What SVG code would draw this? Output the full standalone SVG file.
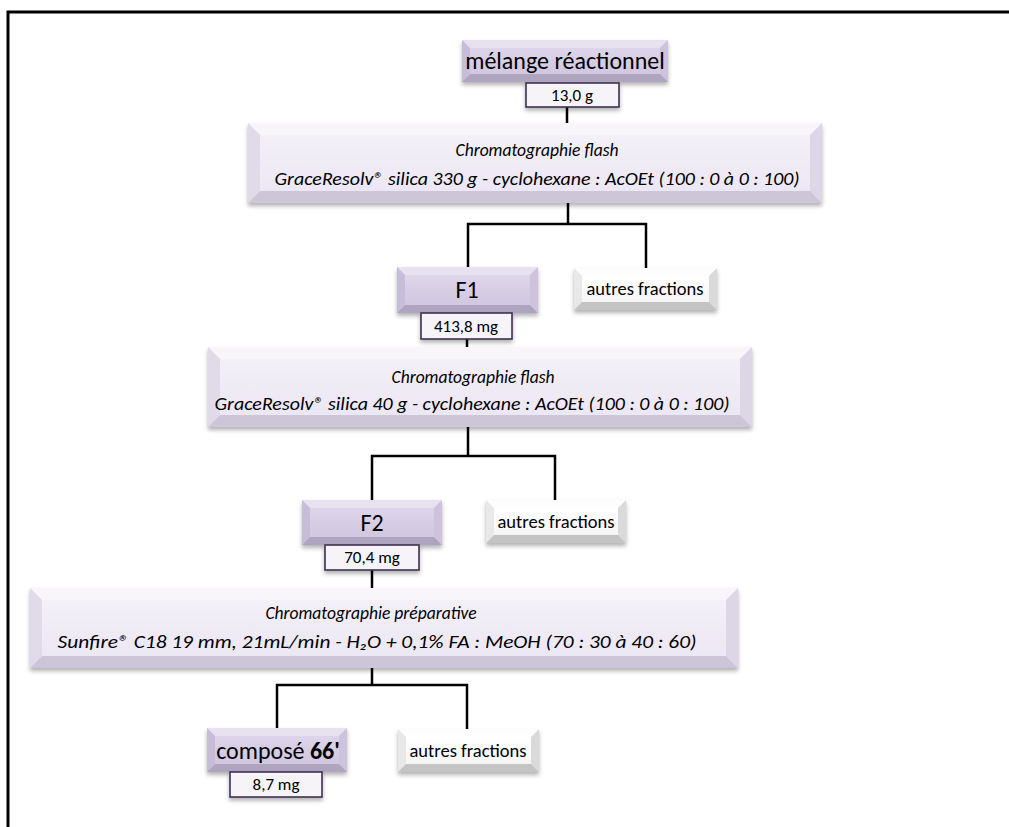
<svg xmlns="http://www.w3.org/2000/svg" width="1009" height="827" viewBox="0 0 1009 827">
<defs>
<filter id="sh" x="-10%" y="-20%" width="120%" height="160%">
<feDropShadow dx="0" dy="3" stdDeviation="2" flood-color="#000" flood-opacity="0.3"/>
</filter>
<linearGradient id="gP" x1="0" y1="0" x2="0" y2="1"><stop offset="0" stop-color="#ddd5ea"/><stop offset="1" stop-color="#d1c7e0"/></linearGradient>
<linearGradient id="gL" x1="0" y1="0" x2="0" y2="1"><stop offset="0" stop-color="#f3f0f8"/><stop offset="1" stop-color="#ece7f4"/></linearGradient>
<linearGradient id="gW" x1="0" y1="0" x2="0" y2="1"><stop offset="0" stop-color="#ffffff"/><stop offset="1" stop-color="#f5f5f5"/></linearGradient>
<style>
.t{font-family:Carlito,'Liberation Sans','DejaVu Sans',sans-serif;fill:#000;text-anchor:middle}
.i{font-style:italic;font-size:17.5px}
.i2{font-style:italic;font-size:19px}
.big{font-size:24px}
.sm{font-size:17px}
.af{font-size:18.5px}
.mass{fill:#f6f4f8;stroke:#3f3151;stroke-width:1.6}
.pT{fill:#e8e2f0}.pL{fill:#c8bdd9}.pR{fill:#cdc3dc}.pB{fill:#b0a5c1}
.lT{fill:#f8f6fb}.lL{fill:#e0dae9}.lR{fill:#dcd6e6}.lB{fill:#cdc6d8}
.wT{fill:#fdfdfd}.wL{fill:#e8e8e8}.wR{fill:#dadada}.wB{fill:#c4c4c4}
.con{fill:none;stroke:#000;stroke-width:2.5}
</style>
</defs>
<rect width="1009" height="827" fill="#fff"/>
<path d="M8,827 V12 H1009" fill="none" stroke="#000" stroke-width="3"/>

<g id="connectors" class="con">
<path d="M567,107 V123"/>
<path d="M568,203 V224"/>
<path d="M468,267 V224 H646 V268"/>
<path d="M467,339 V347"/>
<path d="M468,427 V456"/>
<path d="M372,500 V456 H555 V500"/>
<path d="M372,570 V588"/>
<path d="M372,668 V685"/>
<path d="M277,728 V685 H467 V729"/>
</g>

<g id="melange">
<g filter="url(#sh)"><rect x="462" y="40" width="206" height="42" fill="url(#gP)"/></g>
<polygon class="pT" points="462,40 668,40 660,48 470,48"/>
<polygon class="pL" points="462,40 470,48 470,74 462,82"/>
<polygon class="pR" points="668,40 660,48 660,74 668,82"/>
<polygon class="pB" points="462,82 470,74 660,74 668,82"/>
<rect x="470" y="48" width="190" height="26" fill="url(#gP)"/>
<text class="t big" x="565" y="69">mélange réactionnel</text>
</g>
<g id="mass0">
<rect class="mass" x="526" y="83" width="93" height="24" filter="url(#sh)"/>
<text class="t sm" x="572" y="101">13,0 g</text>
</g>

<g id="chrom1">
<g filter="url(#sh)"><rect x="248" y="123" width="574" height="80" fill="url(#gL)"/></g>
<polygon class="lT" points="248,123 822,123 810,135 260,135"/>
<polygon class="lL" points="248,123 260,135 260,191 248,203"/>
<polygon class="lR" points="822,123 810,135 810,191 822,203"/>
<polygon class="lB" points="248,203 260,191 810,191 822,203"/>
<rect x="260" y="135" width="550" height="56" fill="url(#gL)"/>
<text class="t i" x="537" y="156">Chromatographie flash</text>
<text class="t i2" x="537" y="185" textLength="525" lengthAdjust="spacingAndGlyphs">GraceResolv® silica 330 g - cyclohexane : AcOEt (100 : 0 à 0 : 100)</text>
</g>

<g id="F1">
<g filter="url(#sh)"><rect x="397" y="267" width="141" height="46" fill="url(#gP)"/></g>
<polygon class="pT" points="397,267 538,267 530,275 405,275"/>
<polygon class="pL" points="397,267 405,275 405,305 397,313"/>
<polygon class="pR" points="538,267 530,275 530,305 538,313"/>
<polygon class="pB" points="397,313 405,305 530,305 538,313"/>
<rect x="405" y="275" width="125" height="30" fill="url(#gP)"/>
<text class="t big" x="467" y="298">F1</text>
</g>
<g id="mass1">
<rect class="mass" x="421" y="313" width="91" height="26" filter="url(#sh)"/>
<text class="t sm" x="466" y="332">413,8 mg</text>
</g>
<g id="autres1">
<g filter="url(#sh)"><rect x="574" y="268" width="143" height="42" fill="url(#gW)"/></g>
<polygon class="wT" points="574,268 717,268 709,276 582,276"/>
<polygon class="wL" points="574,268 582,276 582,302 574,310"/>
<polygon class="wR" points="717,268 709,276 709,302 717,310"/>
<polygon class="wB" points="574,310 582,302 709,302 717,310"/>
<rect x="582" y="276" width="127" height="26" fill="url(#gW)"/>
<text class="t af" x="645" y="295">autres fractions</text>
</g>

<g id="chrom2">
<g filter="url(#sh)"><rect x="208" y="347" width="544" height="80" fill="url(#gL)"/></g>
<polygon class="lT" points="208,347 752,347 740,359 220,359"/>
<polygon class="lL" points="208,347 220,359 220,415 208,427"/>
<polygon class="lR" points="752,347 740,359 740,415 752,427"/>
<polygon class="lB" points="208,427 220,415 740,415 752,427"/>
<rect x="220" y="359" width="520" height="56" fill="url(#gL)"/>
<text class="t i" x="473" y="383">Chromatographie flash</text>
<text class="t i2" x="472" y="410" textLength="515" lengthAdjust="spacingAndGlyphs">GraceResolv® silica 40 g - cyclohexane : AcOEt (100 : 0 à 0 : 100)</text>
</g>

<g id="F2">
<g filter="url(#sh)"><rect x="302" y="500" width="140" height="45" fill="url(#gP)"/></g>
<polygon class="pT" points="302,500 442,500 434,508 310,508"/>
<polygon class="pL" points="302,500 310,508 310,537 302,545"/>
<polygon class="pR" points="442,500 434,508 434,537 442,545"/>
<polygon class="pB" points="302,545 310,537 434,537 442,545"/>
<rect x="310" y="508" width="124" height="29" fill="url(#gP)"/>
<text class="t big" x="372" y="531">F2</text>
</g>
<g id="mass2">
<rect class="mass" x="325" y="545" width="94" height="25" filter="url(#sh)"/>
<text class="t sm" x="372" y="563">70,4 mg</text>
</g>
<g id="autres2">
<g filter="url(#sh)"><rect x="486" y="500" width="140" height="43" fill="url(#gW)"/></g>
<polygon class="wT" points="486,500 626,500 618,508 494,508"/>
<polygon class="wL" points="486,500 494,508 494,535 486,543"/>
<polygon class="wR" points="626,500 618,508 618,535 626,543"/>
<polygon class="wB" points="486,543 494,535 618,535 626,543"/>
<rect x="494" y="508" width="124" height="27" fill="url(#gW)"/>
<text class="t af" x="556" y="528">autres fractions</text>
</g>

<g id="chrom3">
<g filter="url(#sh)"><rect x="30" y="588" width="708" height="80" fill="url(#gL)"/></g>
<polygon class="lT" points="30,588 738,588 726,600 42,600"/>
<polygon class="lL" points="30,588 42,600 42,656 30,668"/>
<polygon class="lR" points="738,588 726,600 726,656 738,668"/>
<polygon class="lB" points="30,668 42,656 726,656 738,668"/>
<rect x="42" y="600" width="684" height="56" fill="url(#gL)"/>
<text class="t i" x="371" y="619">Chromatographie préparative</text>
<text class="t i2" x="377" y="648" textLength="639" lengthAdjust="spacingAndGlyphs">Sunfire® C18 19 mm, 21mL/min - H₂O + 0,1% FA : MeOH (70 : 30 à 40 : 60)</text>
</g>

<g id="compose">
<g filter="url(#sh)"><rect x="207" y="728" width="140" height="44" fill="url(#gP)"/></g>
<polygon class="pT" points="207,728 347,728 339,736 215,736"/>
<polygon class="pL" points="207,728 215,736 215,764 207,772"/>
<polygon class="pR" points="347,728 339,736 339,764 347,772"/>
<polygon class="pB" points="207,772 215,764 339,764 347,772"/>
<rect x="215" y="736" width="124" height="28" fill="url(#gP)"/>
<text class="t big" x="278" y="759">composé <tspan font-weight="bold">66'</tspan></text>
</g>
<g id="mass3">
<rect class="mass" x="230" y="772" width="92" height="25" filter="url(#sh)"/>
<text class="t sm" x="276" y="790">8,7 mg</text>
</g>
<g id="autres3">
<g filter="url(#sh)"><rect x="398" y="729" width="141" height="43" fill="url(#gW)"/></g>
<polygon class="wT" points="398,729 539,729 531,737 406,737"/>
<polygon class="wL" points="398,729 406,737 406,764 398,772"/>
<polygon class="wR" points="539,729 531,737 531,764 539,772"/>
<polygon class="wB" points="398,772 406,764 531,764 539,772"/>
<rect x="406" y="737" width="125" height="27" fill="url(#gW)"/>
<text class="t af" x="468" y="757">autres fractions</text>
</g>
</svg>
